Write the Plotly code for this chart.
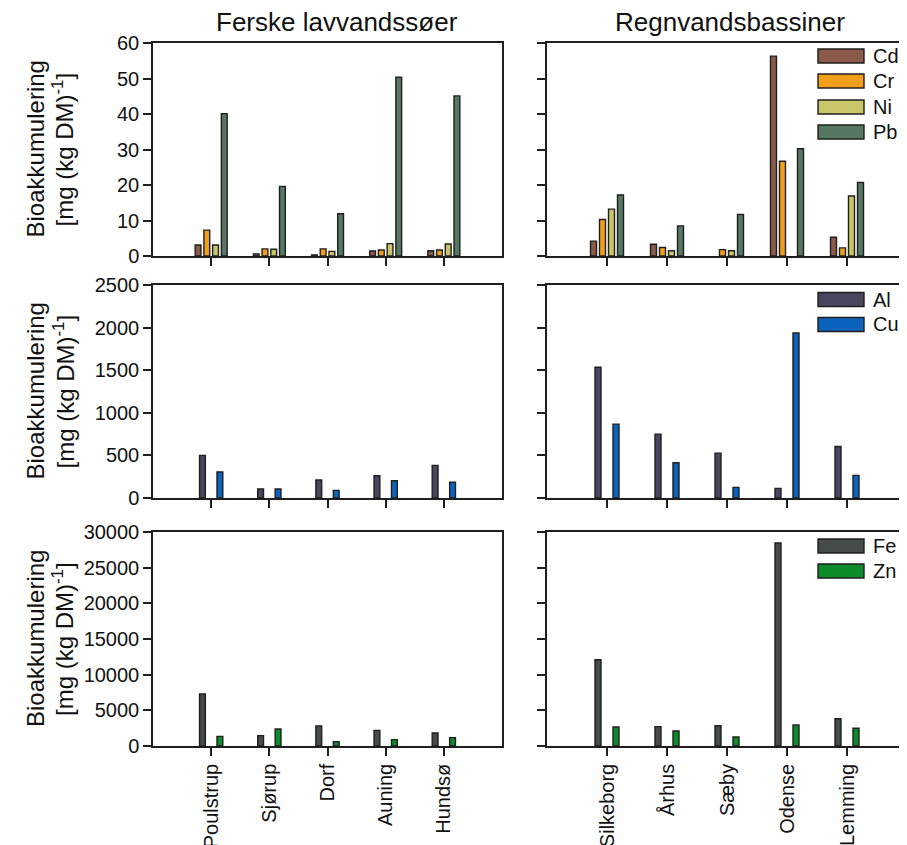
import plotly.graph_objects as go

# ---------------- data ----------------
lakes = ["Poulstrup", "Sjørup", "Dorf", "Auning", "Hundsø"]
basins = ["Silkeborg", "Århus", "Sæby", "Odense", "Lemming"]

# top row: Cd, Cr, Ni, Pb  [mg (kg DM)^-1]
cd_lakes = [3.1, 0.6, 0.3, 1.4, 1.5]
cr_lakes = [7.3, 2.0, 2.0, 1.7, 1.7]
ni_lakes = [3.1, 1.9, 1.3, 3.5, 3.4]
pb_lakes = [40.1, 19.6, 11.9, 50.4, 45.1]

cd_basins = [4.2, 3.3, None, 56.3, 5.3]
cr_basins = [10.3, 2.4, 1.8, 26.7, 2.3]
ni_basins = [13.2, 1.5, 1.5, None, 16.9]
pb_basins = [17.2, 8.5, 11.7, 30.2, 20.7]

# middle row: Al, Cu
al_lakes = [500, 105, 211, 262, 383]
cu_lakes = [305, 105, 90, 203, 184]
al_basins = [1535, 750, 527, 113, 605]
cu_basins = [867, 414, 125, 1937, 266]

# bottom row: Fe, Zn
fe_lakes = [7280, 1450, 2800, 2190, 1820]
zn_lakes = [1350, 2380, 610, 890, 1170]
fe_basins = [12100, 2710, 2850, 28460, 3830]
zn_basins = [2660, 2100, 1260, 2940, 2480]

panel_titles = ["Ferske lavvandssøer", "Regnvandsbassiner"]
y_title_1 = "Bioakkumulering"
y_title_2 = "[mg (kg DM)<sup>-1</sup>]"

colors = {
    "Cd": "#8C5A48", "Cr": "#F29E1A", "Ni": "#C9C66A", "Pb": "#567762",
    "Al": "#4A4660", "Cu": "#0B63BD", "Fe": "#454C49", "Zn": "#0B8B2A",
}

VIEW_W, VIEW_H = 907, 845
OFF = 8  # default page margin of the html body
W, H = VIEW_W - OFF, VIEW_H - OFF   # figure fills the window up to its right / bottom edge
FONT = "Arial, Liberation Sans, Helvetica, sans-serif"
LINE = "#1f1f1f"
TXT = "#111111"

fig = go.Figure()

def px_x(p):
    return (p - OFF) / W

def px_y(p):
    return 1 - (p - OFF) / H

def add_bars(names, series, cats, xa, ya, width, offsets):
    for name, vals, off in zip(names, series, offsets):
        fig.add_trace(go.Bar(
            x=cats, y=vals, name=name, xaxis=xa, yaxis=ya,
            width=width, offset=off,
            marker=dict(color=colors[name], line=dict(color=LINE, width=1.4)),
            showlegend=False,
        ))

four = ["Cd", "Cr", "Ni", "Pb"]
off4 = [-0.275, -0.125, 0.025, 0.175]
off2 = [-0.2, 0.1]

add_bars(four, [cd_lakes, cr_lakes, ni_lakes, pb_lakes], lakes, "x", "y", 0.1, off4)
add_bars(four, [cd_basins, cr_basins, ni_basins, pb_basins], basins, "x2", "y2", 0.1, off4)
add_bars(["Al", "Cu"], [al_lakes, cu_lakes], lakes, "x3", "y3", 0.1, off2)
add_bars(["Al", "Cu"], [al_basins, cu_basins], basins, "x4", "y4", 0.1, off2)
add_bars(["Fe", "Zn"], [fe_lakes, zn_lakes], lakes, "x5", "y5", 0.1, off2)
add_bars(["Fe", "Zn"], [fe_basins, zn_basins], basins, "x6", "y6", 0.1, off2)

# domains (pixel based, in window pixels)
left_dom = [px_x(153), px_x(502)]
right_dom = [px_x(547), 1.0]
right_px_end = OFF + W
left_range = [-1, 5]
right_range = [-1, -1 + (right_px_end - 547) / 60.0]   # 60 px per category
rows = [(43, 256), (285, 498), (532, 746)]
row_dom = [[px_y(b), px_y(t)] for t, b in rows]
yranges = [[0, 60], [0, 2500], [0, 30000]]
ydticks = [10, 500, 5000]

layout = dict(
    width=W, height=H,
    margin=dict(l=0, r=0, t=0, b=0, pad=0),
    paper_bgcolor="white", plot_bgcolor="white",
    barmode="overlay",
    font=dict(family=FONT, size=18, color=TXT),
    showlegend=False,
)

for r in range(3):
    for c in range(2):
        idx = r * 2 + c + 1
        xk = "xaxis" if idx == 1 else f"xaxis{idx}"
        yk = "yaxis" if idx == 1 else f"yaxis{idx}"
        xid = "x" if idx == 1 else f"x{idx}"
        yid = "y" if idx == 1 else f"y{idx}"
        layout[xk] = dict(
            domain=left_dom if c == 0 else right_dom,
            anchor=yid, type="category",
            range=left_range if c == 0 else right_range,
            showline=True, linecolor=LINE, linewidth=1.5, mirror=True,
            ticks="outside", ticklen=8, tickwidth=1.5, tickcolor=LINE,
            showgrid=False, zeroline=False, automargin=False,
            showticklabels=(r == 2), tickangle=-90,
            tickfont=dict(size=20, family=FONT, color=TXT),
            fixedrange=True,
        )
        layout[yk] = dict(
            domain=row_dom[r], anchor=xid,
            range=yranges[r], dtick=ydticks[r], tick0=0,
            tickformat="d",
            showline=True, linecolor=LINE, linewidth=1.5,
            mirror=(c == 0),
            ticks="outside", ticklen=8, tickwidth=1.5, tickcolor=LINE,
            showgrid=False, zeroline=False, automargin=False,
            showticklabels=(c == 0),
            tickfont=dict(size=20, family=FONT, color=TXT),
            fixedrange=True,
        )

fig.update_layout(**layout)

annotations = []
# column titles
annotations.append(dict(text=panel_titles[0], x=px_x(337), y=px_y(22), xref="paper", yref="paper",
                        xanchor="center", yanchor="middle", showarrow=False,
                        font=dict(size=26, family=FONT, color=TXT)))
annotations.append(dict(text=panel_titles[1], x=px_x(730), y=px_y(22), xref="paper", yref="paper",
                        xanchor="center", yanchor="middle", showarrow=False,
                        font=dict(size=26, family=FONT, color=TXT)))
# y titles (two lines each)
for t, b in rows:
    yc = (t + b) / 2
    annotations.append(dict(text=y_title_1, x=px_x(35), y=px_y(yc), xref="paper", yref="paper",
                            xanchor="center", yanchor="middle", textangle=-90, showarrow=False,
                            font=dict(size=24, family=FONT, color=TXT)))
    annotations.append(dict(text=y_title_2, x=px_x(63), y=px_y(yc), xref="paper", yref="paper",
                            xanchor="center", yanchor="middle", textangle=-90, showarrow=False,
                            font=dict(size=24, family=FONT, color=TXT)))

# legends (boxes + labels) in the right column
shapes = []
legend_groups = [
    (["Cd", "Cr", "Ni", "Pb"], [56, 81, 107, 132]),
    (["Al", "Cu"], [299.5, 324.5]),
    (["Fe", "Zn"], [546, 571]),
]
for names, ys in legend_groups:
    for name, yc in zip(names, ys):
        shapes.append(dict(type="rect", xref="paper", yref="paper",
                           x0=px_x(818), x1=px_x(864), y0=px_y(yc + 7), y1=px_y(yc - 7),
                           fillcolor=colors[name], line=dict(color=LINE, width=1.4)))
        annotations.append(dict(text=name, x=px_x(871), y=px_y(yc), xref="paper", yref="paper",
                                xanchor="left", yanchor="middle", showarrow=False,
                                font=dict(size=20, family=FONT, color=TXT)))

fig.update_layout(annotations=annotations, shapes=shapes)

fig.write_html("out.html")
